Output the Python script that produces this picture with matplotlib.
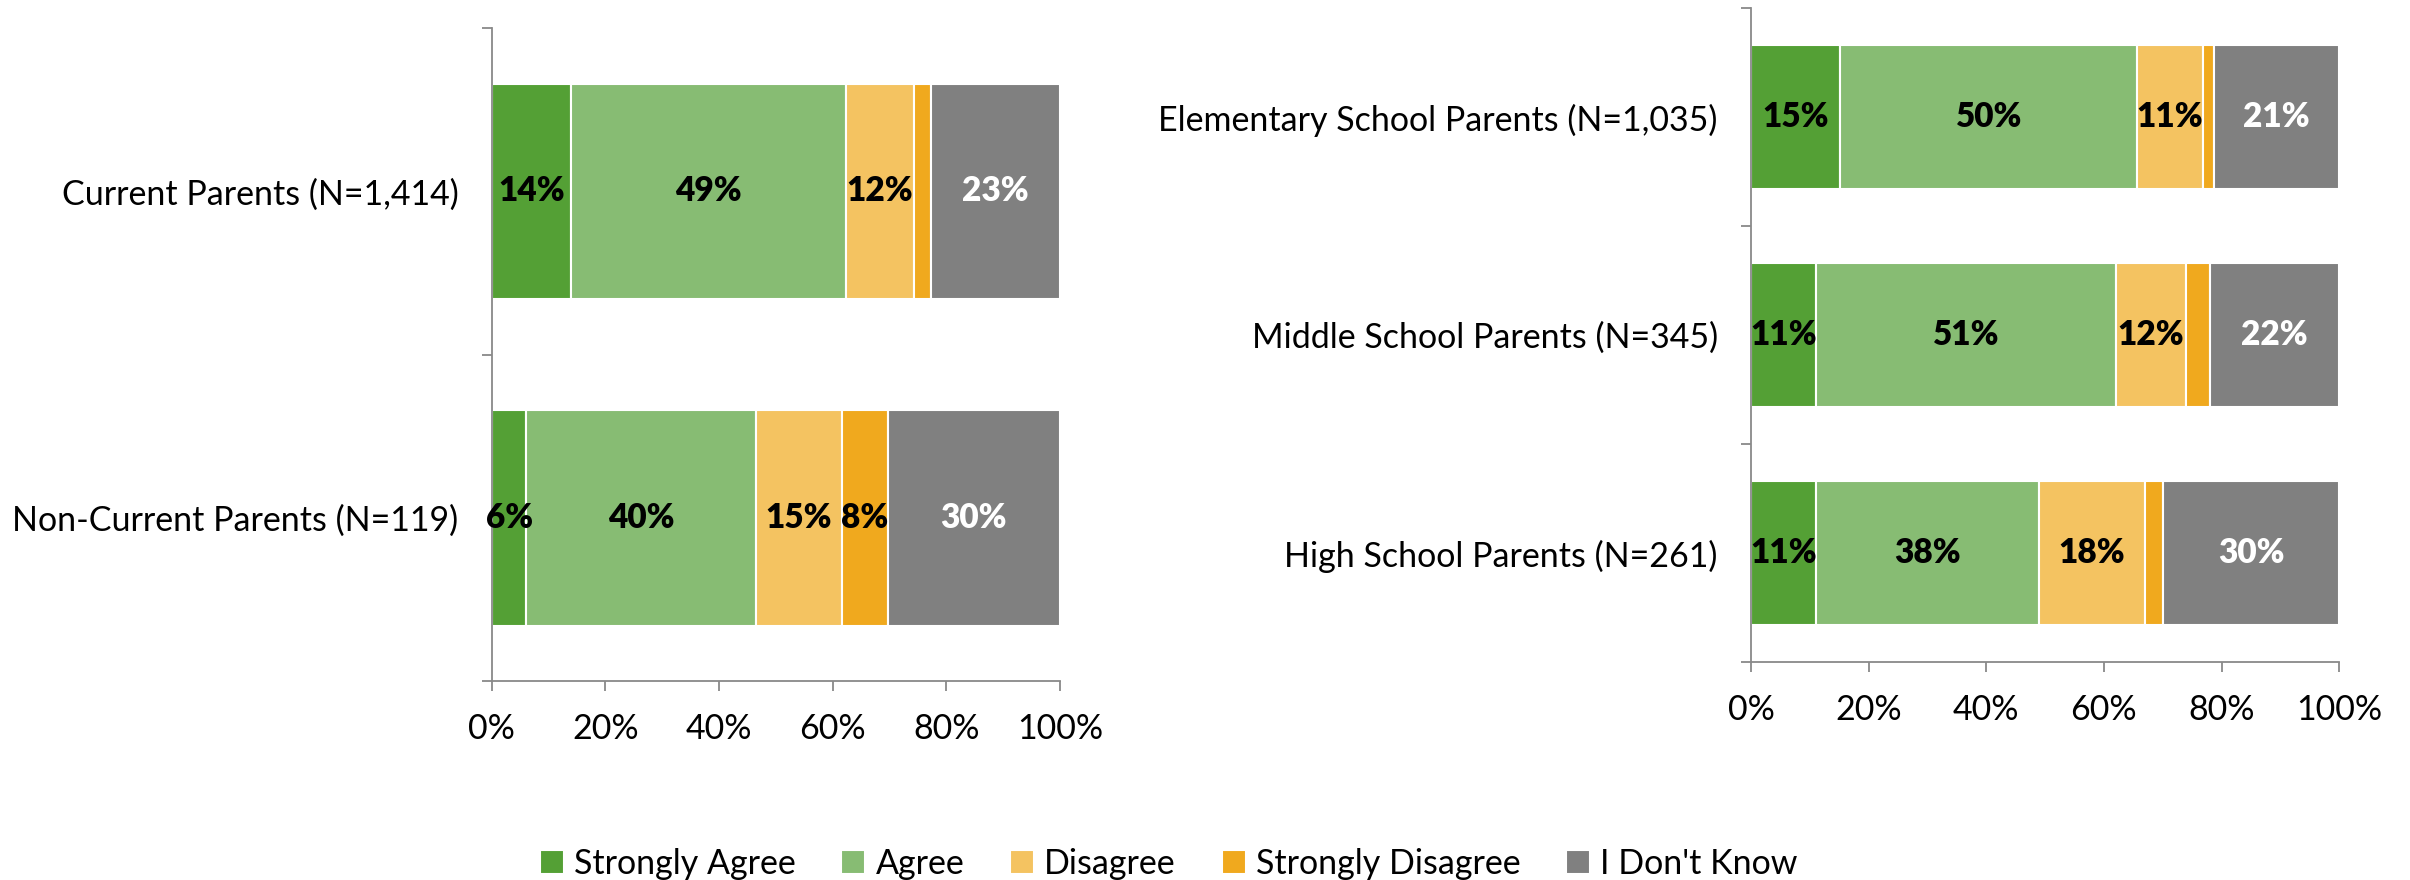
import matplotlib
matplotlib.use("Agg")
import matplotlib.pyplot as plt
import numpy as np

plt.rcParams['font.family'] = ['Lato', 'DejaVu Sans']

# response categories and colours
categories = ["Strongly Agree", "Agree", "Disagree", "Strongly Disagree", "I Don't Know"]
colors = ['#54A035', '#87BC73', '#F4C361', '#F0A91E', '#808080']
label_colors = ['black', 'black', 'black', 'black', 'white']

# left panel: current vs non-current parents
left_groups = ["Current Parents (N=1,414)", "Non-Current Parents (N=119)"]
left_vals = [
    [14, 49, 12, 3, 23],
    [6, 40, 15, 8, 30],
]

# right panel: by school level
right_groups = ["Elementary School Parents (N=1,035)",
                "Middle School Parents (N=345)",
                "High School Parents (N=261)"]
right_vals = [
    [15, 50, 11, 2, 21],
    [11, 51, 12, 4, 22],
    [11, 38, 18, 3, 30],
]

SPINE = '#898989'
FS = 24.5


def draw(ax, groups, vals):
    n = len(groups)
    ypos = np.arange(n)[::-1]
    data = np.array(vals, dtype=float)
    pct = data / data.sum(axis=1, keepdims=True) * 100
    left = np.zeros(n)
    for j, cat in enumerate(categories):
        w = pct[:, j]
        ax.barh(ypos, w, left=left, height=0.66, color=colors[j],
                edgecolor='white', linewidth=1.5, label=cat)
        for i in range(n):
            v = data[i, j]
            # Excel hides the tiny strongly-disagree labels
            if j == 3 and v < 5:
                continue
            ax.text(left[i] + w[i] / 2, ypos[i], f"{v:.0f}%", ha='center', va='center',
                    fontsize=24, fontweight='heavy', color=label_colors[j])
        left += w

    ax.set_xlim(0, 100)
    ax.set_ylim(-0.5, n - 0.5)
    ax.set_xticks(np.arange(0, 101, 20))
    ax.set_xticklabels([f"{t}%" for t in range(0, 101, 20)], fontsize=FS)
    ax.set_yticks(ypos)
    ax.set_yticklabels(groups, fontsize=FS)
    ax.set_yticks(np.arange(-0.5, n, 1.0), minor=True)
    ax.tick_params(axis='y', which='major', length=0, pad=24)
    ax.tick_params(axis='y', which='minor', length=7, width=1.3, color=SPINE)
    ax.tick_params(axis='x', length=7, width=1.3, color=SPINE, pad=16)
    for s in ['top', 'right']:
        ax.spines[s].set_visible(False)
    for s in ['left', 'bottom']:
        ax.spines[s].set_color(SPINE)
        ax.spines[s].set_linewidth(1.3)


fig = plt.figure(figsize=(24.1, 8.8), dpi=100)
ax1 = fig.add_axes([0.2041, 0.2261, 0.2357, 0.742])
ax2 = fig.add_axes([0.7266, 0.2477, 0.244, 0.743])
draw(ax1, left_groups, left_vals)
draw(ax2, right_groups, right_vals)

handles, labels = ax1.get_legend_handles_labels()
fig.legend(handles, labels, loc='center', bbox_to_anchor=(0.485, 1 - 864 / 880),
           ncol=5, frameon=False, fontsize=FS, handlelength=0.7, handleheight=0.7,
           handletextpad=0.3, columnspacing=1.35)

plt.savefig('out.png', dpi=100)
